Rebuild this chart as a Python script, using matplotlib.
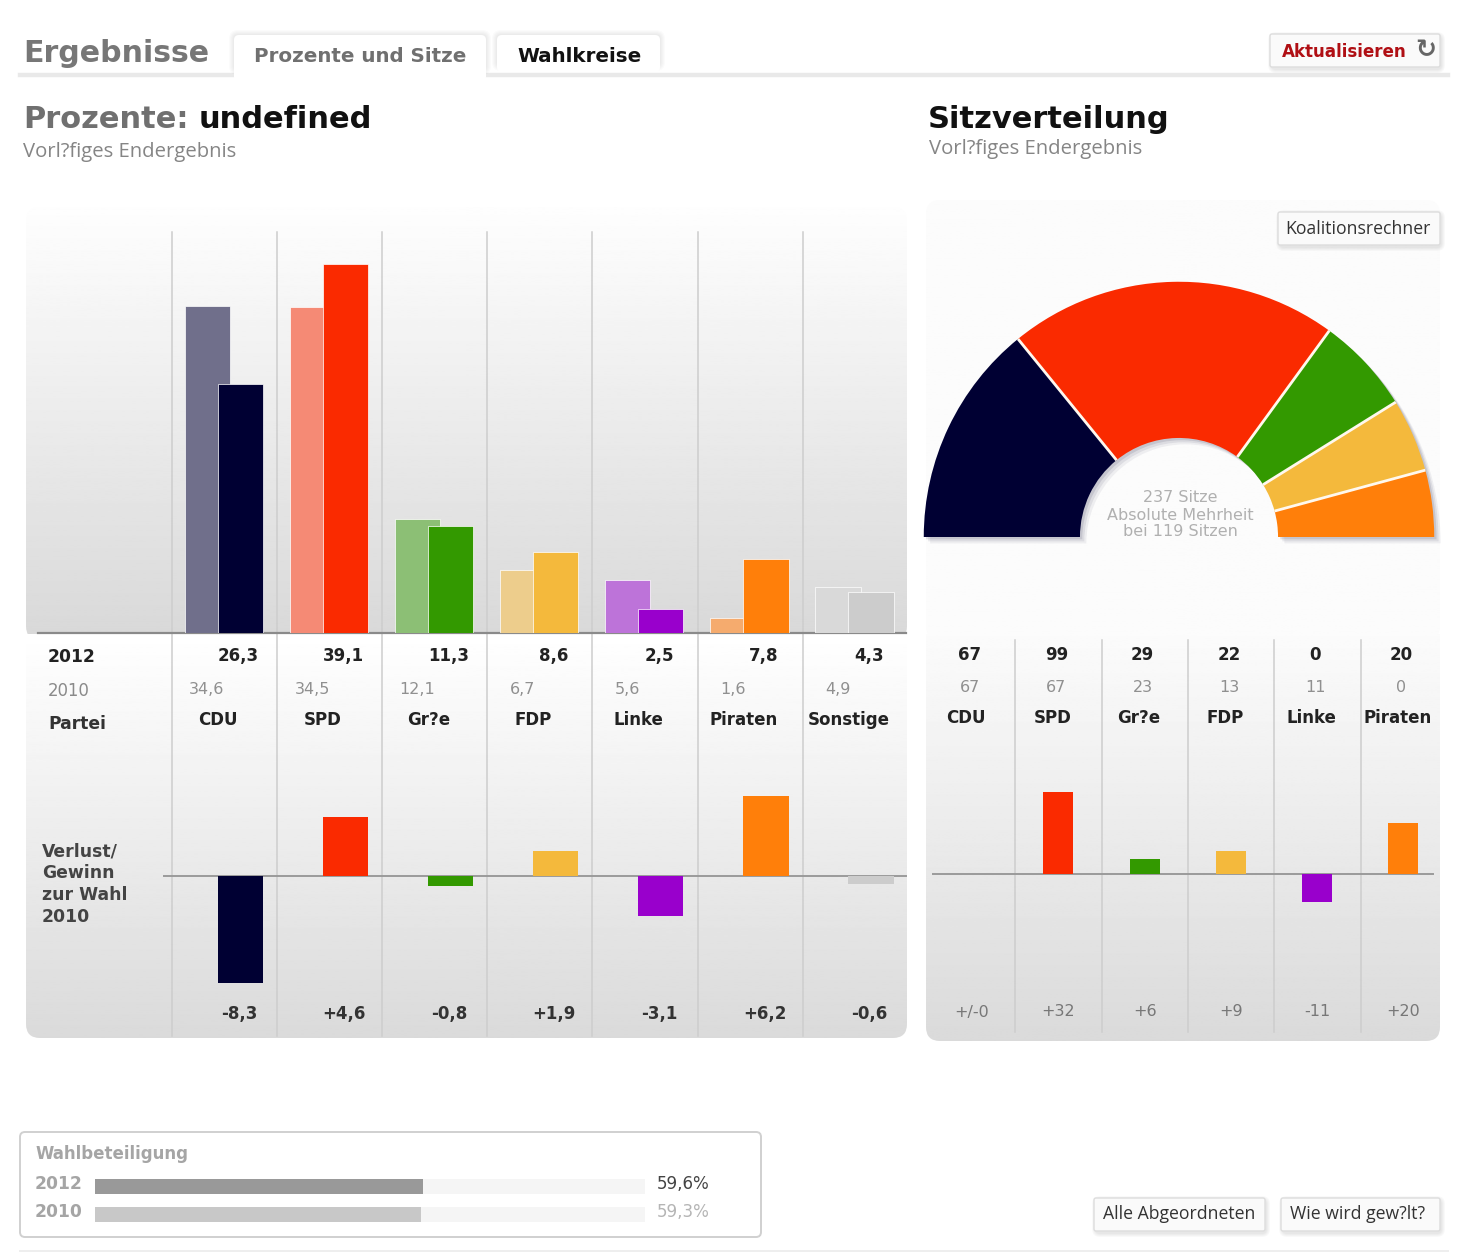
import matplotlib
matplotlib.use("Agg")
import matplotlib.pyplot as plt
from matplotlib.patches import FancyBboxPatch
import numpy as np

W, H = 1468, 1253

parties = ["CDU", "SPD", "Gr?e", "FDP", "Linke", "Piraten", "Sonstige"]
votes_2012 = [26.3, 39.1, 11.3, 8.6, 2.5, 7.8, 4.3]
votes_2010 = [34.6, 34.5, 12.1, 6.7, 5.6, 1.6, 4.9]
votes_diff = [-8.3, 4.6, -0.8, 1.9, -3.1, 6.2, -0.6]
colors_2012 = ["#000033", "#fa2a00", "#339900", "#f4b93c", "#9900cc", "#ff7f0a", "#cccccc"]
colors_2010 = ["#706f8b", "#f58a75", "#8cbf75", "#edcd8c", "#bd73d9", "#f5ab6e", "#d9d9d9"]

seat_parties = ["CDU", "SPD", "Gr?e", "FDP", "Linke", "Piraten"]
seats_2012 = [67, 99, 29, 22, 0, 20]
seats_2010 = [67, 67, 23, 13, 11, 0]
seats_diff = [0, 32, 6, 9, -11, 20]

turnout_years = ["2012", "2010"]
turnout = [59.6, 59.3]

BOLD = {"fontweight": "bold", "family": "DejaVu Sans"}
THIN = {"family": "DejaVu Sans"}


def de(v, sign=False):
    s = f"{v:+.1f}" if sign else f"{v:.1f}"
    return s.replace(".", ",")


def px_axes(x0, y0, x1, y1, z=2):
    # axes placed in image pixels, y counted from the top
    ax = fig.add_axes([x0 / W, 1 - y1 / H, (x1 - x0) / W, (y1 - y0) / H], zorder=z)
    ax.patch.set_alpha(0)
    ax.set_axis_off()
    return ax


def gradient(x0, y0, x1, y1, top, bottom, clip):
    g = np.linspace(top, bottom, 256).reshape(-1, 1)
    im = base.imshow(g, extent=(x0, x1, y1, y0), cmap="gray", vmin=0, vmax=1,
                     aspect="auto", zorder=1)
    im.set_clip_path(clip)


def rbox(x0, y0, x1, y1, r=6, fc="white", ec="none", lw=1, z=2, alpha=None):
    p = FancyBboxPatch((x0 + r, y0 + r), x1 - x0 - 2 * r, y1 - y0 - 2 * r,
                       boxstyle=f"round,pad={r},rounding_size={r}",
                       fc=fc, ec=ec, lw=lw, zorder=z, alpha=alpha)
    base.add_patch(p)
    return p


def soft_box(x0, y0, x1, y1, grow=5, z=2, alpha=0.022):
    for g in range(grow, 0, -1):
        rbox(x0 - g, y0 - g, x1 + g, y1 + g, r=4 + g, fc="#000000", z=z, alpha=alpha)


def button(x0, y0, x1, y1):
    soft_box(x0 + 2, y0 + 2, x1 + 1, y1 + 2, grow=4, z=3)
    rbox(x0, y0, x1, y1, r=2, fc="#fafafa", ec="#dddddd", z=4)


fig = plt.figure(figsize=(W / 100, H / 100), dpi=100, facecolor="white")
base = fig.add_axes([0, 0, 1, 1], zorder=0)
base.set_axis_off()
base.set_autoscale_on(False)
base.set_xlim(0, W)
base.set_ylim(H, 0)

# kopf mit tabs
base.plot([20, 1448], [75, 75], color="#e9e9e9", lw=3.2, zorder=2)
soft_box(234, 35, 486, 70, z=2, alpha=0.014)
soft_box(497, 35, 660, 66, z=2, alpha=0.014)
rbox(234, 35, 486, 82, r=5, z=3)
rbox(497, 35, 660, 72, r=5, z=3)
base.text(23, 54, "Ergebnisse", color="#777777", fontsize=21.6, va="center", zorder=6, **BOLD)
base.text(360, 56, "Prozente und Sitze", color="#707070", fontsize=14.3, ha="center", va="center", zorder=6, **BOLD)
base.text(580, 56, "Wahlkreise", color="#111111", fontsize=14.3, ha="center", va="center", zorder=6, **BOLD)
button(1270, 34, 1440, 67)
base.text(1282, 52, "Aktualisieren", color="#b00f14", fontsize=12.1, va="center", zorder=6, **BOLD)
base.text(1426, 50, "\u21bb", color="#666666", fontsize=18, ha="center", va="center", zorder=6, **BOLD)

base.text(23, 120, "Prozente:", color="#707070", fontsize=22, va="center", zorder=6, **BOLD)
base.text(199, 120, "undefined", color="#111111", fontsize=22, va="center", zorder=6, **BOLD)
base.text(928, 120, "Sitzverteilung", color="#111111", fontsize=22, va="center", zorder=6, **BOLD)
base.text(23, 152, "Vorl?figes Endergebnis", color="#858585", fontsize=14.6, va="center", family="Open Sans", zorder=6)
base.text(929, 149, "Vorl?figes Endergebnis", color="#858585", fontsize=14.6, va="center", family="Open Sans", zorder=6)

# panels
left_top = rbox(26, 207, 907, 640, r=14, fc="none")
left_low = rbox(26, 620, 907, 1038, r=14, fc="none")
right_top = rbox(926, 200, 1440, 640, r=14, fc="none")
right_low = rbox(926, 620, 1440, 1041, r=14, fc="none")
gradient(26, 207, 907, 634, 0.995, 0.85, left_top)
gradient(26, 634, 907, 1038, 1.0, 0.855, left_low)
gradient(926, 200, 1440, 634, 0.985, 0.985, right_top)
gradient(926, 634, 1440, 1041, 0.985, 0.855, right_low)

COL0, COLW = 172.0, 105.1
for i in range(7):
    x = COL0 + COLW * i
    base.plot([x, x], [232, 1036], color="#cdcdcd", lw=1.1, zorder=2)
SEAT0, SEATW = 929.0, 86.3
for i in range(1, 6):
    x = SEAT0 + SEATW * i
    base.plot([x, x], [640, 1032], color="#cdcdcd", lw=1.1, zorder=2)

base.plot([38, 906], [633, 633], color="#8a8a8a", lw=1.6, zorder=5)
base.plot([164, 906], [876, 876], color="#9a9a9a", lw=1.4, zorder=2)
base.plot([933, 1433], [874, 874], color="#9a9a9a", lw=1.4, zorder=2)

# balken prozente, 9.45 px je prozentpunkt
ax = px_axes(COL0, 230, COL0 + 7 * COLW, 633)
ax.set_xlim(0, 7)
ax.set_ylim(0, 403 / 9.45)
xs = np.arange(7)
ax.bar(xs + 0.335, votes_2010, 0.432, color=colors_2010, edgecolor="#ffffff", linewidth=0.5)
ax.bar(xs + 0.65, votes_2012, 0.432, color=colors_2012, edgecolor="#ffffff", linewidth=0.5)

# gewinn / verlust
ax = px_axes(COL0, 786, COL0 + 7 * COLW, 990)
ax.set_xlim(0, 7)
ax.set_ylim(-114 / 12.9, 90 / 12.9)
ax.bar(xs + 0.65, votes_diff, 0.432, color=colors_2012, linewidth=0)

# gewinn / verlust sitze
ax = px_axes(SEAT0, 780, SEAT0 + 6 * SEATW, 920)
ax.set_xlim(0, 6)
ax.set_ylim(-46 / 2.57, 94 / 2.57)
ax.bar(np.arange(6) + 0.498, seats_diff, 0.348,
       color=[colors_2012[i] for i in range(6)], linewidth=0)

# halbkreis: die untere haelfte bleibt unsichtbar
ax = px_axes(1179 - 268, 537 - 268, 1179 + 268, 537 + 268, z=3)
total = sum(seats_2012)
for off, a in [(0.025, 0.07), (0.017, 0.10), (0.009, 0.14)]:
    ax.pie([total, total], colors=["#404060", "none"], startangle=180, counterclock=False,
           radius=1, center=(off, -off),
           wedgeprops={"width": 0.612, "linewidth": 0, "alpha": a})
hemi = [s for s in seats_2012 if s > 0] + [total]
hemi_colors = [colors_2012[i] for i, s in enumerate(seats_2012) if s > 0] + ["none"]
wedges, _ = ax.pie(hemi, colors=hemi_colors, startangle=180, counterclock=False, radius=1,
                   wedgeprops={"width": 0.612, "linewidth": 0})
wedges[-1].set_visible(False)
# trennlinien nur zwischen den parteien
for c in np.cumsum(hemi[:-2]):
    a = np.pi * (1 - c / total)
    ax.plot([0.388 * np.cos(a), np.cos(a)], [0.388 * np.sin(a), np.sin(a)],
            color="#fff8ee", lw=2, solid_capstyle="butt")
ax.set_xlim(-1.05, 1.05)
ax.set_ylim(-1.05, 1.05)

for y, line in zip([497, 515, 532], ["237 Sitze", "Absolute Mehrheit", "bei 119 Sitzen"]):
    base.text(1180, y, line, color="#b0b0b0", fontsize=11.5, ha="center", va="center", zorder=6, **THIN)

# tabellen
base.text(48, 657, "2012", color="#222222", fontsize=12.3, va="center", zorder=6, **BOLD)
base.text(48, 691, "2010", color="#8a8a8a", fontsize=11.9, va="center", zorder=6, **THIN)
base.text(48, 724, "Partei", color="#333333", fontsize=12.3, va="center", zorder=6, **BOLD)
for y, line in zip([851, 873, 895, 917], ["Verlust/", "Gewinn", "zur Wahl", "2010"]):
    base.text(42, y, line, color="#444444", fontsize=12.4, va="center", zorder=6, **BOLD)

for i in range(7):
    x = COL0 + COLW * i
    base.text(x + 66.5, 656, de(votes_2012[i]), color="#222222", fontsize=12, ha="center", va="center", zorder=6, **BOLD)
    base.text(x + 35, 689, de(votes_2010[i]), color="#909090", fontsize=11.5, ha="center", va="center", zorder=6, **THIN)
    base.text(x + 46, 720, parties[i], color="#222222", fontsize=12, ha="center", va="center", zorder=6, **BOLD)
    base.text(x + 67, 1014, de(votes_diff[i], True), color="#333333", fontsize=12, ha="center", va="center", zorder=6, **BOLD)

for i in range(6):
    x = SEAT0 + SEATW * i
    base.text(x + 41, 655, str(seats_2012[i]), color="#222222", fontsize=12, ha="center", va="center", zorder=6, **BOLD)
    base.text(x + 41, 688, str(seats_2010[i]), color="#909090", fontsize=11.5, ha="center", va="center", zorder=6, **THIN)
    base.text(x + 37, 718, seat_parties[i], color="#222222", fontsize=12, ha="center", va="center", zorder=6, **BOLD)
    d = seats_diff[i]
    label = "+/-0" if d == 0 else f"{d:+d}"
    base.text(x + 43, 1012, label, color="#777777", fontsize=11.5, ha="center", va="center", zorder=6, **THIN)

# knoepfe
button(1278, 212, 1440, 245)
base.text(1358, 229, "Koalitionsrechner", color="#333333", fontsize=12.7, ha="center", va="center", family="Open Sans", zorder=6)
button(1094, 1198, 1265, 1231)
base.text(1179, 1214, "Alle Abgeordneten", color="#333333", fontsize=12.7, ha="center", va="center", family="Open Sans", zorder=6)
button(1281, 1198, 1440, 1231)
base.text(1358, 1214, "Wie wird gew?lt?", color="#333333", fontsize=12.7, ha="center", va="center", family="Open Sans", zorder=6)

# wahlbeteiligung
rbox(20, 1132, 761, 1237, r=5, fc="white", ec="#d0d0d0", lw=1.4, z=2)
base.plot([20, 1448], [1251, 1251], color="#eeeeee", lw=1.4, zorder=2)
base.text(35, 1154, "Wahlbeteiligung", color="#a5a5a5", fontsize=12, va="center", zorder=6, **BOLD)
ax = px_axes(95, 1172.5, 645, 1228.5)
ax.set_xlim(0, 100)
ax.set_ylim(1.5, -0.5)
ax.barh([0, 1], [100, 100], 0.56, color="#f5f5f5", linewidth=0)
ax.barh([0, 1], turnout, 0.56, color=["#999999", "#c8c8c8"], linewidth=0)
for i, (yr, t) in enumerate(zip(turnout_years, turnout)):
    y = 1184 + 28 * i
    base.text(35, y, yr, color="#a5a5a5", fontsize=12.3, va="center", zorder=6, **BOLD)
    base.text(657, y, de(t) + "%", color="#444444" if i == 0 else "#b5b5b5", fontsize=12.1, va="center", zorder=6, **THIN)

fig.savefig("out.png", dpi=100)
